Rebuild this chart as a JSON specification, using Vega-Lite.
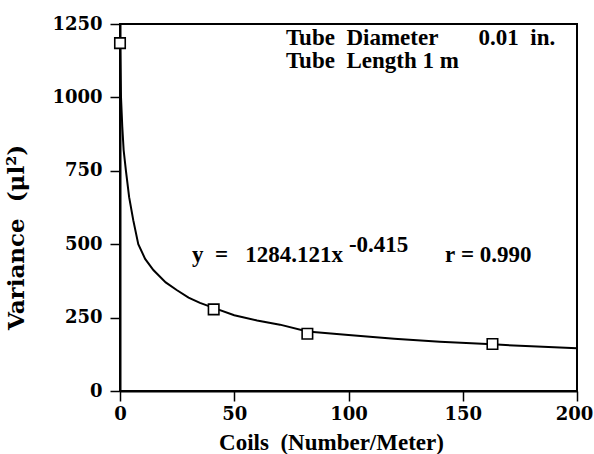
{
  "$schema": "https://vega.github.io/schema/vega-lite/v6.json",
  "width": 457,
  "height": 367,
  "autosize": {"type": "none"},
  "padding": {"left": 120, "top": 24, "right": 17, "bottom": 63},
  "background": "white",
  "config": {
    "view": {"stroke": "black", "strokeWidth": 2},
    "axis": {
      "grid": false,
      "domainColor": "black",
      "domainWidth": 2,
      "tickColor": "black",
      "tickWidth": 1.5,
      "tickSize": 10,
      "labelFont": "DejaVu Serif",
      "labelFontWeight": "bold",
      "labelFontSize": 18,
      "labelColor": "black",
      "titleFont": "Liberation Serif",
      "titleFontWeight": "bold",
      "titleFontSize": 23,
      "titleColor": "black",
      "labelFlush": false,
      "labelOverlap": false,
      "format": "d"
    }
  },
  "datasets": {
    "curve": [
      {"coils": 0, "variance": 1185},
      {"coils": 0.2, "variance": 1100},
      {"coils": 0.44, "variance": 1000},
      {"coils": 1, "variance": 900},
      {"coils": 1.6, "variance": 820},
      {"coils": 2.6, "variance": 750},
      {"coils": 4, "variance": 660},
      {"coils": 5.8, "variance": 582},
      {"coils": 8, "variance": 500},
      {"coils": 11, "variance": 450},
      {"coils": 14.6, "variance": 412},
      {"coils": 20, "variance": 370},
      {"coils": 24.8, "variance": 344},
      {"coils": 30, "variance": 318},
      {"coils": 35, "variance": 300},
      {"coils": 41, "variance": 283},
      {"coils": 50, "variance": 258},
      {"coils": 60, "variance": 240},
      {"coils": 70, "variance": 226},
      {"coils": 82, "variance": 203},
      {"coils": 100, "variance": 191},
      {"coils": 120, "variance": 178},
      {"coils": 140, "variance": 168},
      {"coils": 163, "variance": 159},
      {"coils": 180, "variance": 152},
      {"coils": 200, "variance": 146}
    ],
    "points": [
      {"coils": 0, "variance": 1185},
      {"coils": 41, "variance": 278},
      {"coils": 82, "variance": 195},
      {"coils": 163, "variance": 160}
    ],
    "labels": [
      {"x": 72.6, "y": 1178, "text": "Tube\u00a0\u00a0Diameter\u00a0\u00a0\u00a0\u00a0\u00a0\u00a0\u00a00.01\u00a0\u00a0in."},
      {"x": 72.6, "y": 1100, "text": "Tube\u00a0\u00a0Length\u00a01\u00a0m"},
      {"x": 31.5, "y": 439, "text": "y\u00a0\u00a0=\u00a0\u00a0\u00a01284.121x"},
      {"x": 142.2, "y": 439, "text": "r\u00a0=\u00a00.990"}
    ],
    "sup": [
      {"x": 100.2, "y": 473, "text": "-0.415"}
    ]
  },
  "layer": [
    {
      "data": {"name": "curve"},
      "mark": {"type": "line", "color": "black", "strokeWidth": 2, "clip": true},
      "encoding": {
        "x": {"field": "coils", "type": "quantitative",
          "scale": {"domain": [0, 200], "nice": false},
          "axis": {"values": [0, 50, 100, 150, 200], "title": "Coils\u00a0\u00a0(Number/Meter)", "titleX": 211, "titleY": 58, "titleBaseline": "alphabetic", "labelPadding": 4,
            "labelOffset": {"condition": {"test": "datum.value == 200", "value": -3}, "value": 0}}},
        "y": {"field": "variance", "type": "quantitative",
          "scale": {"domain": [0, 1250], "nice": false},
          "axis": {"values": [0, 250, 500, 750, 1000, 1250], "title": "Variance\u00a0\u00a0(μl²)", "titleFont": "DejaVu Serif", "titleFontSize": 23, "titleY": 213, "titleX": -92, "labelPadding": 8}}
      }
    },
    {
      "data": {"name": "points"},
      "mark": {"type": "point", "shape": "square", "size": 110, "filled": false, "fill": "white", "fillOpacity": 1, "stroke": "black", "strokeWidth": 1.6, "opacity": 1},
      "encoding": {
        "x": {"field": "coils", "type": "quantitative"},
        "y": {"field": "variance", "type": "quantitative"}
      }
    },
    {
      "data": {"name": "labels"},
      "mark": {"type": "text", "align": "left", "baseline": "alphabetic", "font": "Liberation Serif", "fontWeight": "bold", "fontSize": 23, "color": "black"},
      "encoding": {
        "x": {"field": "x", "type": "quantitative"},
        "y": {"field": "y", "type": "quantitative"},
        "text": {"field": "text"}
      }
    },
    {
      "data": {"name": "sup"},
      "mark": {"type": "text", "align": "left", "baseline": "alphabetic", "font": "Liberation Serif", "fontWeight": "bold", "fontSize": 23, "color": "black"},
      "encoding": {
        "x": {"field": "x", "type": "quantitative"},
        "y": {"field": "y", "type": "quantitative"},
        "text": {"field": "text"}
      }
    }
  ]
}
